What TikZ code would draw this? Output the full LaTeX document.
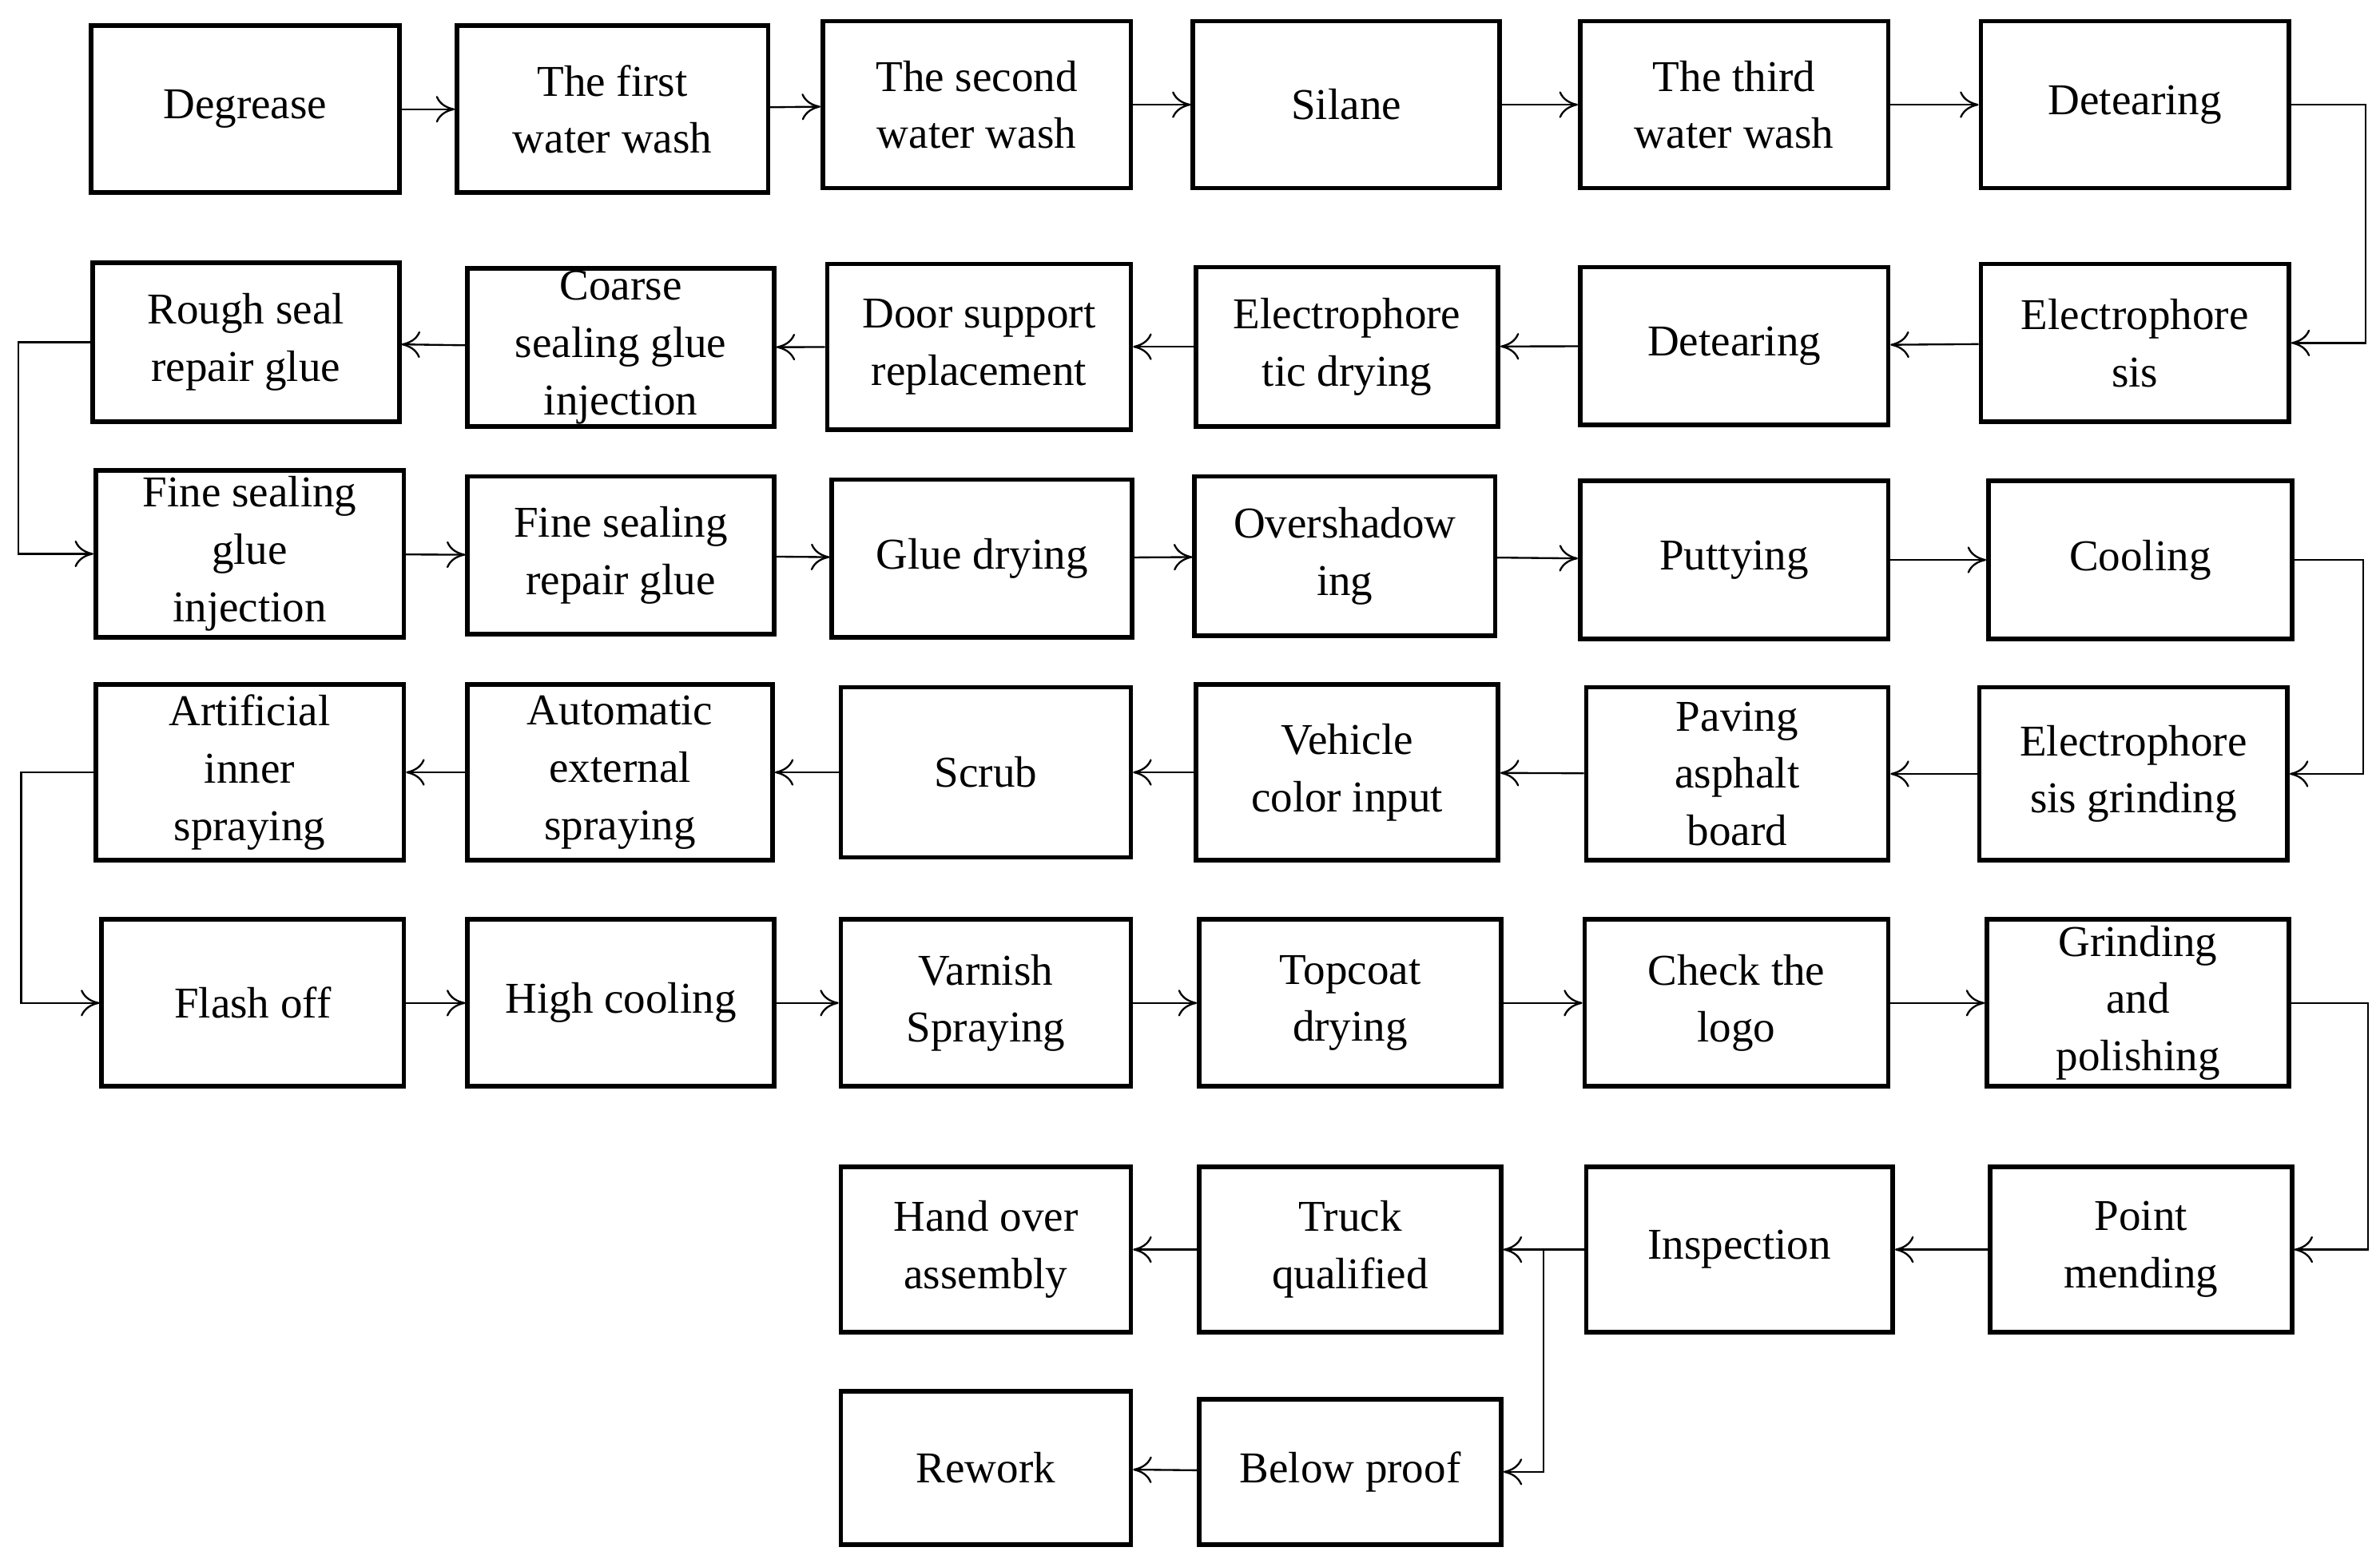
\documentclass[tikz,border=0pt]{standalone}
\usepackage{fontspec}
\setmainfont{Liberation Serif}
\usetikzlibrary{arrows.meta}
\begin{document}
\begin{tikzpicture}[x=0.02cm,y=-0.02cm,
  box/.style={draw,line width=1.7pt,inner sep=0pt,align=center,font=\fontsize{16.5}{21.5}\selectfont},
  ar/.style={line width=0.7pt,-{To[length=7pt,width=10pt]}}]
\useasboundingbox[fill=white] (0,0) rectangle (1568,1030);
\newcommand\bx[6]{%
  \pgfmathsetmacro\bxcx{(#2+#4)/2}\pgfmathsetmacro\bxcy{(#3+#5)/2}%
  \pgfmathsetmacro\bxw{(#4-#2)*0.02}\pgfmathsetmacro\bxh{(#5-#3)*0.02}%
  \node[box,minimum width=\bxw cm,minimum height=\bxh cm] (#1) at (\bxcx,\bxcy) {#6};}
% row 1
\bx{a1}{60}{17}{263}{127}{Degrease}
\bx{a2}{301}{17}{506}{127}{The first\\water wash}
\bx{a3}{542}{14}{745}{124}{The second\\water wash}
\bx{a4}{786}{14}{988}{124}{Silane}
\bx{a5}{1041}{14}{1244}{124}{The third\\water wash}
\bx{a6}{1305}{14}{1508}{124}{Detearing}
% row 2
\bx{b1}{61}{173}{263}{278}{Rough seal\\repair glue}
\bx{b2}{308}{177}{510}{281}{Coarse\\sealing glue\\injection}
\bx{b3}{545}{174}{745}{283}{Door support\\replacement}
\bx{b4}{788}{176}{987}{281}{Electrophore\\tic drying}
\bx{b5}{1041}{176}{1244}{280}{Detearing}
\bx{b6}{1305}{174}{1508}{278}{Electrophore\\sis}
% row 3
\bx{c1}{63}{310}{266}{420}{Fine sealing\\glue\\injection}
\bx{c2}{308}{314}{510}{418}{Fine sealing\\repair glue}
\bx{c3}{548}{316}{746}{420}{Glue drying}
\bx{c4}{787}{314}{985}{419}{Overshadow\\ing}
\bx{c5}{1041}{317}{1244}{421}{Puttying}
\bx{c6}{1310}{317}{1510}{421}{Cooling}
% row 4
\bx{d1}{63}{451}{266}{567}{Artificial\\inner\\spraying}
\bx{d2}{308}{451}{509}{567}{Automatic\\external\\spraying}
\bx{d3}{554}{453}{745}{565}{Scrub}
\bx{d4}{788}{451}{987}{567}{Vehicle\\color input}
\bx{d5}{1045}{453}{1244}{567}{Paving\\asphalt\\board}
\bx{d6}{1304}{453}{1507}{567}{Electrophore\\sis grinding}
% row 5
\bx{e1}{67}{606}{266}{716}{Flash off}
\bx{e2}{308}{606}{510}{716}{High cooling}
\bx{e3}{554}{606}{745}{716}{Varnish\\Spraying}
\bx{e4}{790}{606}{989}{716}{Topcoat\\drying}
\bx{e5}{1044}{606}{1244}{716}{Check the\\logo}
\bx{e6}{1309}{606}{1508}{716}{Grinding\\and\\polishing}
% row 6
\bx{f1}{554}{769}{745}{878}{Hand over\\assembly}
\bx{f2}{790}{769}{989}{878}{Truck\\qualified}
\bx{f3}{1045}{769}{1247}{878}{Inspection}
\bx{f4}{1311}{769}{1510}{878}{Point\\mending}
% row 7
\bx{g1}{554}{917}{745}{1018}{Rework}
\bx{g2}{790}{922}{989}{1018}{Below proof}
% arrows row 1
\draw[ar] (a1) -- (a2); \draw[ar] (a2) -- (a3); \draw[ar] (a3) -- (a4);
\draw[ar] (a4) -- (a5); \draw[ar] (a5) -- (a6);
\draw[ar] (a6.east) -- ++(49,0) |- (b6.east);
% row 2
\draw[ar] (b6) -- (b5); \draw[ar] (b5) -- (b4); \draw[ar] (b4) -- (b3);
\draw[ar] (b3) -- (b2); \draw[ar] (b2) -- (b1);
\draw[ar] (b1.west) -- (12,225.5) |- (c1.west);
% row 3
\draw[ar] (c1) -- (c2); \draw[ar] (c2) -- (c3); \draw[ar] (c3) -- (c4);
\draw[ar] (c4) -- (c5); \draw[ar] (c5) -- (c6);
\draw[ar] (c6.east) -- (1557,369) |- (d6.east);
% row 4
\draw[ar] (d6) -- (d5); \draw[ar] (d5) -- (d4); \draw[ar] (d4) -- (d3);
\draw[ar] (d3) -- (d2); \draw[ar] (d2) -- (d1);
\draw[ar] (d1.west) -- (14,509) |- (e1.west);
% row 5
\draw[ar] (e1) -- (e2); \draw[ar] (e2) -- (e3); \draw[ar] (e3) -- (e4);
\draw[ar] (e4) -- (e5); \draw[ar] (e5) -- (e6);
\draw[ar] (e6.east) -- (1560,661) |- (f4.east);
% row 6
\draw[ar] (f4) -- (f3); \draw[ar] (f3) -- (f2); \draw[ar] (f2) -- (f1);
\coordinate (br) at (1017,823.5);
\draw[ar] (br) |- (g2.east);
\draw[ar] (g2) -- (g1);
\end{tikzpicture}
\end{document}
